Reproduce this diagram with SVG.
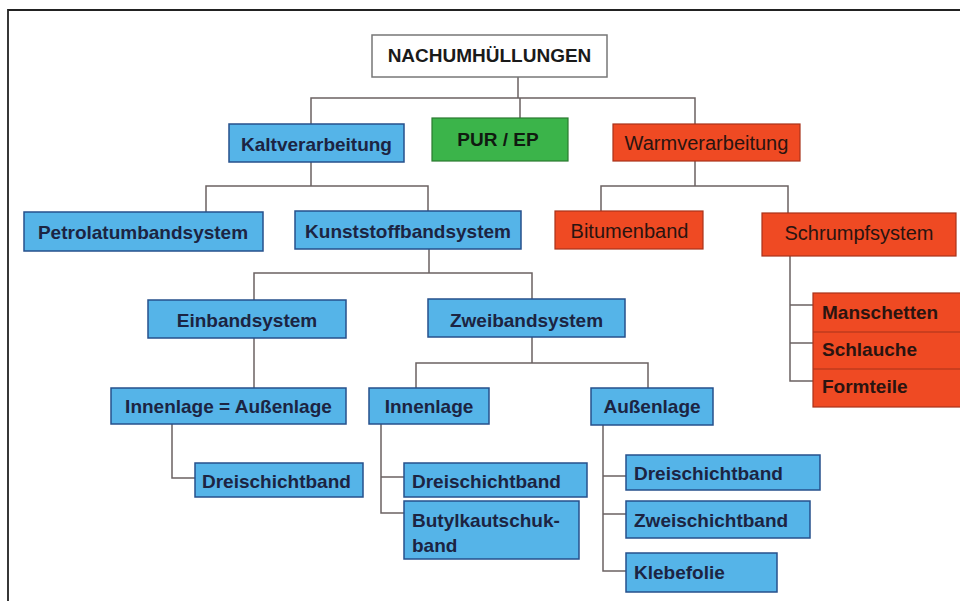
<svg xmlns="http://www.w3.org/2000/svg" width="960" height="601" viewBox="0 0 960 601">
<style>
text{font-family:"Liberation Sans",Arial,sans-serif;font-size:19px}
.b rect{fill:#55b4e8;stroke:#26508c;stroke-width:1.5}
.b text{fill:#1c2442;font-weight:bold}
.r rect{fill:#ef4a23;stroke:#a8321a;stroke-width:1.2}
.r text{fill:#2a1410;font-size:20px}
.rb text{font-weight:bold;font-size:19px}
.g rect{fill:#3bb44a;stroke:#2a7a30;stroke-width:1.2}
.g text{fill:#101a10;font-weight:bold}
.w rect{fill:#ffffff;stroke:#777;stroke-width:1.5}
.w text{fill:#1a1a1a;font-weight:bold}
.c{text-anchor:middle}
#connectors path{fill:none;stroke:#6b6262;stroke-width:1.5}
</style>
<rect x="0" y="0" width="960" height="601" fill="#ffffff"/>
<path d="M8,601 V10 H960" fill="none" stroke="#222" stroke-width="1.8"/>
<g id="connectors">
<path d="M518,77 V98 M311,124 V98 H695 V124 M520,98 V118"/>
<path d="M311,162 V186 M206,212 V186 H428 V211"/>
<path d="M695,161 V186 M601,211 V186 H788 V213"/>
<path d="M790,256 V381 H813 M790,305 H813 M790,343 H813"/>
<path d="M429,249 V273 M254,300 V273 H532 V299"/>
<path d="M254,338 V388"/>
<path d="M532,337 V363 M416,388 V363 H648 V388"/>
<path d="M172,424 V478 H195"/>
<path d="M381,424 V513 H404 M381,477 H404"/>
<path d="M603,425 V571 H626 M603,476 H626 M603,514 H626"/>
</g>
<g id="root" class="w"><rect x="372" y="35" width="235" height="42"/><text class="c" x="489.5" y="62">NACHUMHÜLLUNGEN</text></g>
<g id="kalt" class="b"><rect x="229" y="124" width="175" height="38"/><text class="c" x="316.5" y="150.5">Kaltverarbeitung</text></g>
<g id="pur" class="g"><rect x="432" y="118" width="136" height="43"/><text class="c" x="498" y="146">PUR / EP</text></g>
<g id="warm" class="r"><rect x="613" y="124" width="187" height="37"/><text class="c" x="706.5" y="150">Warmverarbeitung</text></g>
<g id="petrolatum" class="b"><rect x="24" y="212" width="239" height="39"/><text class="c" x="143" y="239">Petrolatumbandsystem</text></g>
<g id="kunststoff" class="b"><rect x="295" y="211" width="226" height="38"/><text class="c" x="408" y="237.5">Kunststoffbandsystem</text></g>
<g id="bitumen" class="r"><rect x="555" y="211" width="148" height="38"/><text class="c" x="629.5" y="237.5">Bitumenband</text></g>
<g id="schrumpf" class="r"><rect x="762" y="213" width="194" height="43"/><text class="c" x="859" y="239.5">Schrumpfsystem</text></g>
<g id="schrumpf-teile" class="r rb"><rect x="813" y="293" width="160" height="114"/><path d="M813,332 H960 M813,369 H960" stroke="#a8321a" stroke-width="1.2"/><text x="822" y="319">Manschetten</text><text x="822" y="356">Schlauche</text><text x="822" y="393">Formteile</text></g>
<g id="einband" class="b"><rect x="148" y="300" width="198" height="38"/><text class="c" x="247" y="327">Einbandsystem</text></g>
<g id="zweiband" class="b"><rect x="428" y="299" width="197" height="38"/><text class="c" x="526.5" y="326.5">Zweibandsystem</text></g>
<g id="innen-aussen" class="b"><rect x="111" y="388" width="235" height="36"/><text class="c" x="228.5" y="413">Innenlage = Außenlage</text></g>
<g id="innenlage" class="b"><rect x="369" y="388" width="120" height="36"/><text class="c" x="429" y="413">Innenlage</text></g>
<g id="aussenlage" class="b"><rect x="591" y="388" width="122" height="37"/><text class="c" x="652" y="413">Außenlage</text></g>
<g id="drei1" class="b"><rect x="195" y="463" width="168" height="34"/><text x="202" y="488">Dreischichtband</text></g>
<g id="drei2" class="b"><rect x="404" y="463" width="183" height="34"/><text x="412" y="488">Dreischichtband</text></g>
<g id="butyl" class="b"><rect x="404" y="501" width="175" height="58"/><text x="412" y="527">Butylkautschuk-</text><text x="412" y="552">band</text></g>
<g id="drei3" class="b"><rect x="626" y="455" width="194" height="35"/><text x="634" y="480">Dreischichtband</text></g>
<g id="zweischicht" class="b"><rect x="626" y="501" width="184" height="37"/><text x="634" y="527">Zweischichtband</text></g>
<g id="klebefolie" class="b"><rect x="626" y="553" width="151" height="39"/><text x="634" y="579">Klebefolie</text></g>
</svg>
